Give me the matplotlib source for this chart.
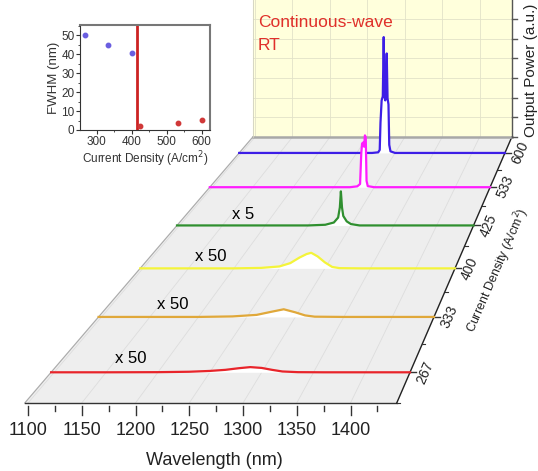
import numpy as np
import matplotlib.pyplot as plt

plt.rcParams['font.family'] = ['Liberation Sans', 'DejaVu Sans']

# ---- spectra (displayed power, a.u.; front row first) ----
densities = ['267', '333', '400', '425', '533', '600']
colors = ['#e8242a', '#e0a83a', '#f4f43a', '#2f8f2f', '#ff1cff', '#3d1ee6']
multipliers = ['x 50', 'x 50', 'x 50', 'x 5', '', '']

wl_267 = [1097, 1150, 1200, 1230, 1250, 1265, 1278, 1289, 1300, 1310, 1320, 1335, 1360, 1443]
pw_267 = [0, 0, 0.005, 0.02, 0.05, 0.09, 0.15, 0.19, 0.16, 0.09, 0.03, 0.005, 0, 0]

wl_333 = [1097, 1200, 1235, 1260, 1275, 1288, 1300, 1310, 1320, 1350, 1443]
pw_333 = [0, 0, 0.02, 0.08, 0.2, 0.30, 0.18, 0.06, 0.01, 0, 0]

wl_400 = [1097, 1200, 1230, 1250, 1262, 1272, 1280, 1285, 1292, 1300, 1308, 1316, 1340, 1443]
pw_400 = [0, 0, 0.02, 0.08, 0.22, 0.45, 0.6, 0.65, 0.5, 0.25, 0.06, 0.01, 0, 0]

wl_425 = [1097, 1250, 1270, 1280, 1285, 1287, 1288.2, 1289.5, 1291, 1295, 1300, 1310, 1443]
pw_425 = [0, 0, 0.03, 0.13, 0.35, 0.8, 1.51, 0.8, 0.42, 0.18, 0.06, 0, 0]

wl_533 = [1097, 1270, 1279, 1282.5, 1284, 1285, 1286.5, 1287.5, 1288.5, 1289.5, 1290.5, 1292, 1300, 1443]
pw_533 = [0, 0, 0.04, 0.15, 1.6, 2.05, 2.1, 1.9, 2.43, 2.35, 0.3, 0.05, 0, 0]

wl_600 = [1097, 1270, 1278, 1280, 1281, 1282.5, 1284, 1285.2, 1286.2, 1287.2, 1288, 1289.1,
          1290.2, 1291.4, 1292.4, 1294, 1300, 1443]
pw_600 = [0, 0, 0.03, 0.15, 1.5, 2.6, 2.8, 5.73, 2.8, 2.6, 2.9, 4.92, 2.7, 2.4, 0.4, 0.08, 0, 0]

spectra = [(wl_267, pw_267), (wl_333, pw_333), (wl_400, pw_400),
           (wl_425, pw_425), (wl_533, pw_533), (wl_600, pw_600)]

# ---- inset: FWHM vs current density ----
j_below = [267, 333, 400]
fwhm_below = [50, 45, 40.4]
j_above = [425, 533, 600]
fwhm_above = [2.3, 3.5, 5.2]
j_threshold = 414

wl_min, wl_max = 1097, 1443
wl_major = np.arange(1100, 1401, 50)
wl_minor = np.arange(1100, 1426, 25)
z_max = 7

# ---- perspective of the waterfall box (pixels) ----
X0, PX_NM = 28, 1.075      # x of 1100 nm on the front edge, px per nm
Y_FRONT, PX_Z = 403, 28.3  # front edge y, px per power unit at the front
VP = (775.6, -472.7)       # vanishing point
DEPTH = 0.436              # front/back shrink


def proj(w, v, z=0.0):
    w = np.asarray(w, float)
    z = np.asarray(z, float)
    s = 1.0 / (1.0 + DEPTH * v)
    xf = X0 + (w - 1100) * PX_NM
    yf = Y_FRONT - z * PX_Z
    return VP[0] + (xf - VP[0]) * s, VP[1] + (yf - VP[1]) * s


fig = plt.figure(figsize=(5.38, 4.71), dpi=100)
ax = fig.add_axes([0, 0, 1, 1])
ax.set_xlim(0, 538)
ax.set_ylim(471, 0)
ax.axis('off')

# floor and back wall
fx = [proj(wl_min, 0)[0], proj(wl_max, 0)[0], proj(wl_max, 1)[0], proj(wl_min, 1)[0]]
fy = [proj(wl_min, 0)[1], proj(wl_max, 0)[1], proj(wl_max, 1)[1], proj(wl_min, 1)[1]]
ax.fill(fx, fy, color='#eeeeee', zorder=0)
wx = [proj(wl_min, 1)[0], proj(wl_max, 1)[0], proj(wl_max, 1, z_max)[0], proj(wl_min, 1, z_max)[0]]
wy = [proj(wl_min, 1)[1], proj(wl_max, 1)[1], proj(wl_max, 1, z_max)[1], proj(wl_min, 1, z_max)[1]]
ax.fill(wx, wy, color='#ffffdc', zorder=0)

# grids
for w in wl_major:
    x0, y0 = proj(w, 0)
    x1, y1 = proj(w, 1)
    ax.plot([x0, x1], [y0, y1], color='#dddddd', lw=0.6, zorder=1)
    x2, y2 = proj(w, 1, z_max)
    ax.plot([x1, x2], [y1, y2], color='#e2e2c8', lw=0.6, zorder=1)
for z in range(1, z_max):
    xa, ya = proj(wl_min, 1, z)
    xb, yb = proj(wl_max, 1, z)
    ax.plot([xa, xb], [ya, yb], color='#e2e2c8', lw=0.6, zorder=1)

# box edges
ax.plot([fx[0], fx[3]], [fy[0], fy[3]], color='#aaaaaa', lw=0.8, zorder=2)
ax.plot([fx[0], fx[1]], [fy[0], fy[1]], color='#333333', lw=1.0, zorder=2)
ax.plot([fx[1], fx[2]], [fy[1], fy[2]], color='#222222', lw=1.0, zorder=2)
ax.plot([fx[2], fx[3]], [fy[2], fy[3]], color='#a8a8a8', lw=1.8, zorder=2)
ax.plot([wx[0], wx[3]], [wy[0], wy[3]], color='#d0d0c0', lw=0.6, zorder=2)
ax.plot([wx[1], wx[2]], [wy[1], wy[2]], color='#555555', lw=1.0, zorder=2)

# spectra, back to front, with white fill underneath
rows = (np.arange(len(densities)) + 0.5) / len(densities)
for i in reversed(range(len(densities))):
    wl, pw = spectra[i]
    x, y = proj(wl, rows[i], pw)
    yb = proj(wl_min, rows[i])[1]
    ax.fill_between(x, y, yb, color='white', lw=0, zorder=3 + 2 * (6 - i))
    ax.plot(x, y, color=colors[i], lw=1.6, zorder=4 + 2 * (6 - i), solid_joinstyle='round')
    if multipliers[i]:
        tx, ty = proj(1174, rows[i], 0.5)
        ax.text(tx, ty, multipliers[i], fontsize=12, ha='center', va='center', zorder=20)

# wavelength axis
for w in wl_minor:
    x, y = proj(w, 0)
    ln = 9 if w in wl_major else 5
    ax.plot([x, x], [y + 3, y + 3 + ln], color='#333333', lw=1.0)
for w in wl_major:
    x, y = proj(w, 0)
    ax.text(x, y + 27, str(w), fontsize=13, ha='center', va='center', color='#222222')
ax.text((fx[0] + fx[1]) / 2 + 4, fy[0] + 57, 'Wavelength (nm)', fontsize=13,
        ha='center', va='center', color='#222222')

# current density axis along the right edge
edge_ang = np.degrees(np.arctan2(fy[1] - fy[2], fx[2] - fx[1]))
for k, v in enumerate(rows):
    x, y = proj(wl_max, v)
    ax.plot([x, x + 6], [y, y], color='#333333', lw=1.0)
    ax.text(x + 15, y, densities[k], fontsize=10, rotation=edge_ang,
            ha='center', va='center', color='#222222')
for v in np.append(rows[:-1] + 0.5 / len(densities), 0.0):
    x, y = proj(wl_max, v)
    ax.plot([x, x + 3], [y, y], color='#333333', lw=0.8)
ax.text((fx[1] + fx[2]) / 2 + 43, (fy[1] + fy[2]) / 2, 'Current Density (A/cm$^2$)',
        fontsize=9, rotation=edge_ang, ha='center', va='center', color='#222222')

# output power axis on the wall edge
for z in range(0, z_max):
    x, y = proj(wl_max, 1, z)
    ax.plot([x, x + 5], [y, y], color='#555555', lw=1.0)
ax.text(531, 70, 'Output Power (a.u.)', fontsize=11, rotation=90,
        ha='center', va='center', color='#222222')

ax.text(258, 26.7, 'Continuous-wave', fontsize=12.5, color='#e0302a', ha='left', va='baseline')
ax.text(258, 50, 'RT', fontsize=12.5, color='#e0302a', ha='left', va='baseline')

# ---- inset ----
axi = fig.add_axes([80 / 538, 1 - 130 / 471, 130 / 538, 105 / 471])
axi.axvline(j_threshold, color='#cc2222', lw=2)
axi.plot(j_below, fwhm_below, 'o', color='#6a5ee0', ms=3.2)
axi.plot(j_above, fwhm_above, 'o', color='#d03838', ms=3.2)
axi.set_xlim(252, 624)
axi.set_ylim(0, 55.3)
axi.set_xticks([300, 400, 500, 600])
axi.set_xticks(np.arange(300, 601, 50), minor=True)
axi.set_yticks(np.arange(0, 51, 10))
axi.set_yticks(np.arange(0, 56, 5), minor=True)
axi.tick_params(which='major', direction='out', length=3, labelsize=8.5, pad=1,
                colors='#333333')
axi.tick_params(which='minor', direction='out', length=1.5, colors='#333333')
axi.set_xlabel('Current Density (A/cm$^2$)', fontsize=8.5, labelpad=1, color='#333333')
axi.set_ylabel('FWHM (nm)', fontsize=9.5, labelpad=1, color='#333333')
for side in ['top', 'right']:
    axi.spines[side].set_color('#777777')
    axi.spines[side].set_linewidth(1.5)
for side in ['left', 'bottom']:
    axi.spines[side].set_color('#333333')

fig.savefig('out.png', dpi=100)
